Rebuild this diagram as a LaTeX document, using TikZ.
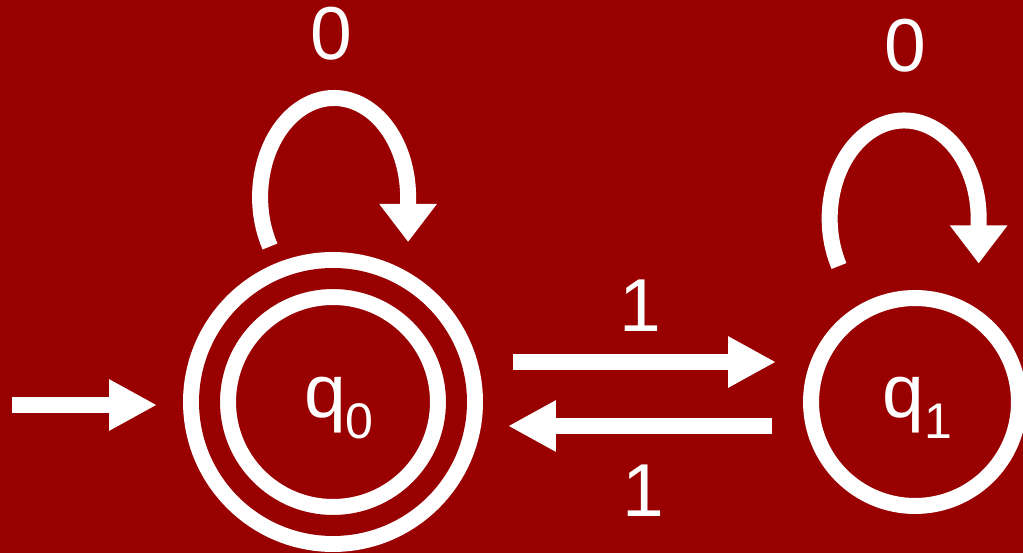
\documentclass[tikz,border=0pt]{standalone}
\usepackage{fontspec}
\setmainfont{Liberation Sans}
\usetikzlibrary{arrows.meta}

\definecolor{slidebg}{HTML}{990000}
\newcommand{\statesub}[1]{\raisebox{-0.42cm}{\fontsize{28.5}{30}\selectfont #1}}

\begin{document}
\begin{tikzpicture}[x=0.02cm, y=0.02cm,
  state/.style={circle, draw=white, line width=0.32cm, text=white, inner sep=0pt,
    font=\fontsize{42.7}{48}\selectfont, text height=1.06cm, text depth=0.42cm},
  accepting/.style={double=slidebg, double distance=0.42cm},
  trans/.style={draw=white, line width=0.32cm, -{Triangle[length=0.96cm, width=0.96cm]}},
  loopedge/.style={draw=white, line width=0.32cm, -{Triangle[length=0.76cm, width=1.1cm]}},
  lbl/.style={text=white, inner sep=0pt, font=\fontsize{42.7}{48}\selectfont}]

\useasboundingbox (0,0) rectangle (1023,553);
\fill[slidebg] (0,0) rectangle (1023,553);

% ---- States ----
\node[state, accepting, minimum size=4.94cm] (q0) at (333,151) {\hspace{0.24cm}q\statesub{0}};
\node[state, minimum size=4.16cm] (q1) at (915,151) {\hspace{0.1cm}q\statesub{1}};

% Start arrow
\coordinate (init) at (12,148);
\draw[trans, shorten >=0.89cm] (init) -- (init -| q0.west);

% ---- Transitions ----
\draw[trans, shorten <=0.97cm, shorten >=0.54cm]
    ([yshift=0.8cm]q0.east) -- ([yshift=0.8cm]q1.west);
\draw[trans, shorten <=0.62cm, shorten >=0.87cm]
    ([yshift=-0.48cm]q1.west) -- ([yshift=-0.48cm]q0.east);

% Self loops
\draw[loopedge] ([shift={(-63,155.5)}]q0.center)
    arc[start angle=210, end angle=0, x radius=74, y radius=99] -- ++(0,-45);
\draw[loopedge] ([shift={(-76,136)}]q1.center)
    arc[start angle=209, end angle=0, x radius=74.5, y radius=98] -- ++(0,-45);

% Labels
\node[lbl] (l00) at (331,519) {0};
\node[lbl] (l11) at (905,507) {0};
\node[lbl] (l01) at (640,247) {1};
\node[lbl] (l10) at (643,62) {1};

\end{tikzpicture}
\end{document}
